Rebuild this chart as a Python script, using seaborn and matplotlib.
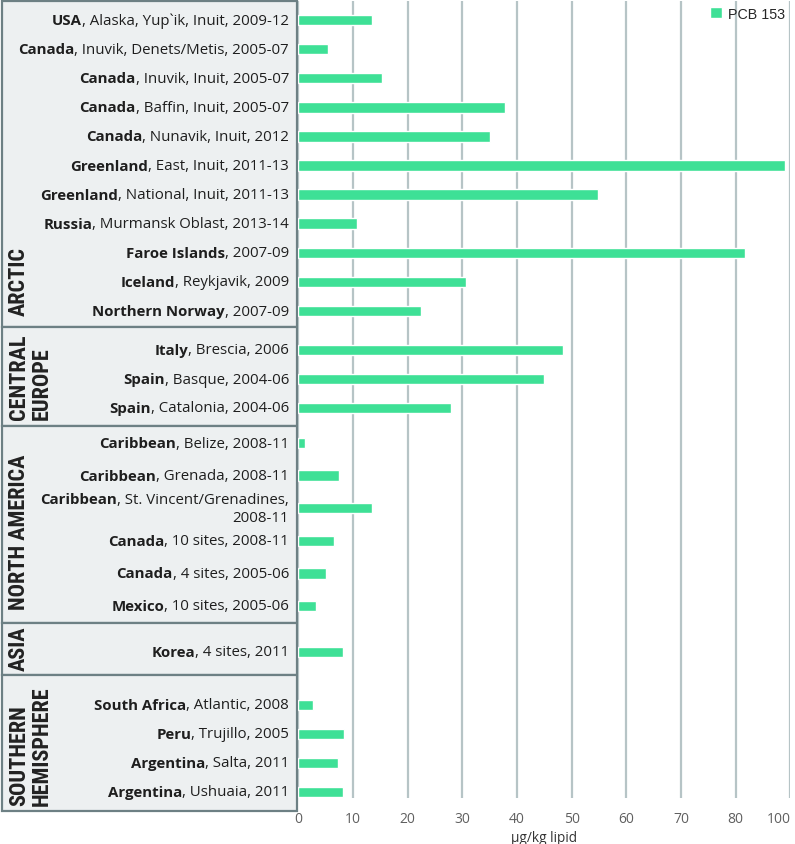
import matplotlib
matplotlib.use("Agg")
import matplotlib.pyplot as plt
from matplotlib import font_manager
from matplotlib.patches import Rectangle, Patch
import pandas as pd
import seaborn as sns

# ---- data ----
group_names = ["ARCTIC", "CENTRAL\nEUROPE", "NORTH AMERICA", "ASIA", "SOUTHERN\nHEMISPHERE"]

arctic_countries = ["USA", "Canada", "Canada", "Canada", "Canada", "Greenland", "Greenland",
                    "Russia", "Faroe Islands", "Iceland", "Northern Norway"]
arctic_details = [", Alaska, Yup`ik, Inuit, 2009-12", ", Inuvik, Denets/Metis, 2005-07",
                  ", Inuvik, Inuit, 2005-07", ", Baffin, Inuit, 2005-07", ", Nunavik, Inuit, 2012",
                  ", East, Inuit, 2011-13", ", National, Inuit, 2011-13", ", Murmansk Oblast, 2013-14",
                  ", 2007-09", ", Reykjavik, 2009", ", 2007-09"]
arctic_pcb153 = [13.5, 5.4, 15.3, 37.8, 35.1, 89.0, 54.9, 10.8, 81.8, 30.6, 22.4]

europe_countries = ["Italy", "Spain", "Spain"]
europe_details = [", Brescia, 2006", ", Basque, 2004-06", ", Catalonia, 2004-06"]
europe_pcb153 = [48.5, 44.9, 27.9]

namerica_countries = ["Caribbean", "Caribbean", "Caribbean", "Canada", "Canada", "Mexico"]
namerica_details = [", Belize, 2008-11", ", Grenada, 2008-11", ", St. Vincent/Grenadines,\n2008-11",
                    ", 10 sites, 2008-11", ", 4 sites, 2005-06", ", 10 sites, 2005-06"]
namerica_pcb153 = [1.2, 7.5, 13.4, 6.5, 5.1, 3.2]

asia_countries = ["Korea"]
asia_details = [", 4 sites, 2011"]
asia_pcb153 = [8.2]

south_countries = ["South Africa", "Peru", "Argentina", "Argentina"]
south_details = [", Atlantic, 2008", ", Trujillo, 2005", ", Salta, 2011", ", Ushuaia, 2011"]
south_pcb153 = [2.7, 8.4, 7.3, 8.1]

tick_values = [0, 10, 20, 30, 40, 50, 60, 70, 80, 90]
tick_labels = ["0", "10", "20", "30", "40", "50", "60", "70", "80", "100"]
series_name = "PCB 153"
x_label = "µg/kg lipid"

group_data = [
    (arctic_countries, arctic_details, arctic_pcb153),
    (europe_countries, europe_details, europe_pcb153),
    (namerica_countries, namerica_details, namerica_pcb153),
    (asia_countries, asia_details, asia_pcb153),
    (south_countries, south_details, south_pcb153),
]

# ---- layout (pixels from top-left of a 795x845 canvas) ----
W, H = 795, 845
# box top, box bottom, first row centre, last row centre
group_layout = [(2, 328, 21, 312), (328, 427, 351, 409), (427, 624, 444, 607),
                (624, 676, 653, 653), (676, 812, 706, 793)]
label_bottom_gap = [12, 7, 14, 5, 6]
plot_left, plot_right = 298.3, 790.3
panel_left = 2
bar_px = 10.5
bar_color = "#3ee096"
grid_color = "#b6c4c6"
border_color = "#6d8084"
panel_color = "#edf0f1"


def fx(px):
    return px / W


def fy(py):
    return 1 - py / H


def find_face(**kw):
    try:
        return font_manager.findfont(font_manager.FontProperties(**kw), fallback_to_default=False)
    except ValueError:
        return None


sns.set_style("white")
plt.rcParams["font.family"] = ["Open Sans", "DejaVu Sans"]

# narrow bold face for the region labels, if one is installed
group_font = dict(family="Roboto", weight="bold", size=14)
candidates = [
    (dict(family="Liberation Sans Narrow", weight="bold"), 16),
    (dict(family="Roboto Condensed", weight="bold"), 16),
    (dict(family="Noto Sans Condensed", weight="bold"), 15.5),
    (dict(family="Noto Sans", weight="bold", stretch="condensed"), 15.5),
    (dict(family="DejaVu Sans", weight="bold", stretch="condensed"), 14.5),
    (dict(family="Open Sans Condensed", weight="bold"), 16),
]
for props, size in candidates:
    path = find_face(**props)
    if path and ("Narrow" in path or "Condensed" in path):
        group_font = dict(props, size=size)
        break

fig = plt.figure(figsize=(W / 100, H / 100), dpi=100)
label_size = 10.8

for gi, ((countries, details, values), (top, bot, first, last)) in enumerate(zip(group_data, group_layout)):
    n = len(values)
    spacing = (last - first) / (n - 1) if n > 1 else 29.1
    ax_bot = 799 if gi == len(group_data) - 1 else bot
    ax = fig.add_axes([fx(plot_left), fy(ax_bot), fx(plot_right - plot_left), (ax_bot - top) / H])

    # label panel box
    fig.add_artist(Rectangle((fx(panel_left), fy(bot)), fx(plot_left - 1 - panel_left), (bot - top) / H,
                             transform=fig.transFigure, facecolor=panel_color,
                             edgecolor=border_color, linewidth=1.6, zorder=0))
    fig.text(fx(8), fy(bot - label_bottom_gap[gi]), group_names[gi], rotation=90, ha="left",
             va="bottom", multialignment="left", linespacing=1.02, color="#222222", **group_font)

    df = pd.DataFrame({"site": [c + d for c, d in zip(countries, details)], "value": values})
    sns.barplot(data=df, x="value", y="site", color=bar_color, saturation=1,
                width=bar_px / spacing, ax=ax)

    ax.set_ylim(n - 1 + (ax_bot - last) / spacing, -(first - top) / spacing)
    ax.set_xlim(tick_values[0], tick_values[-1])
    ax.set_xticks(tick_values)
    ax.set_yticks([])
    ax.set_xlabel("")
    ax.set_ylabel("")
    ax.set_axisbelow(True)
    ax.grid(axis="x", color=grid_color, linewidth=1.6)
    ax.patch.set_alpha(0)
    for s in ax.spines.values():
        s.set_visible(False)

    lab_x = (289 - plot_left) / (plot_right - plot_left)
    for i, (c, d) in enumerate(zip(countries, details)):
        lines = d.split("\n")
        off = 9 / spacing * (len(lines) - 1)
        t = ax.text(lab_x, i - off, lines[0], ha="right", va="center", fontsize=label_size,
                    color="#1e1e1e", transform=ax.get_yaxis_transform())
        ax.annotate(c, xy=(0, 0.5), xycoords=t, ha="right", va="center", fontsize=label_size,
                    fontweight="bold", color="#1e1e1e")
        for k, extra in enumerate(lines[1:], start=1):
            ax.text(lab_x, i - off + k * 18 / spacing, extra, ha="right", va="center",
                    fontsize=label_size, color="#1e1e1e", transform=ax.get_yaxis_transform())

    if gi == len(group_data) - 1:
        ax.set_xticklabels(tick_labels)
        ax.tick_params(axis="x", length=0, pad=9.5, labelsize=10, labelcolor="#606060")
        ax.get_xticklabels()[-1].set_horizontalalignment("right")
        ax.set_xlabel(x_label, fontsize=9.8, color="#333333", labelpad=3)
    else:
        ax.tick_params(axis="x", length=0, labelbottom=False)

    if gi == 0:
        ax.legend(handles=[Patch(facecolor=bar_color, label=series_name)], loc="upper right",
                  bbox_to_anchor=(fx(791), fy(2)), bbox_transform=fig.transFigure, frameon=False,
                  handlelength=0.85, handleheight=0.85, handletextpad=0.45, borderaxespad=0,
                  prop={"family": ["Liberation Sans", "DejaVu Sans"], "size": 10.3})

fig.savefig("out.png", dpi=100)
